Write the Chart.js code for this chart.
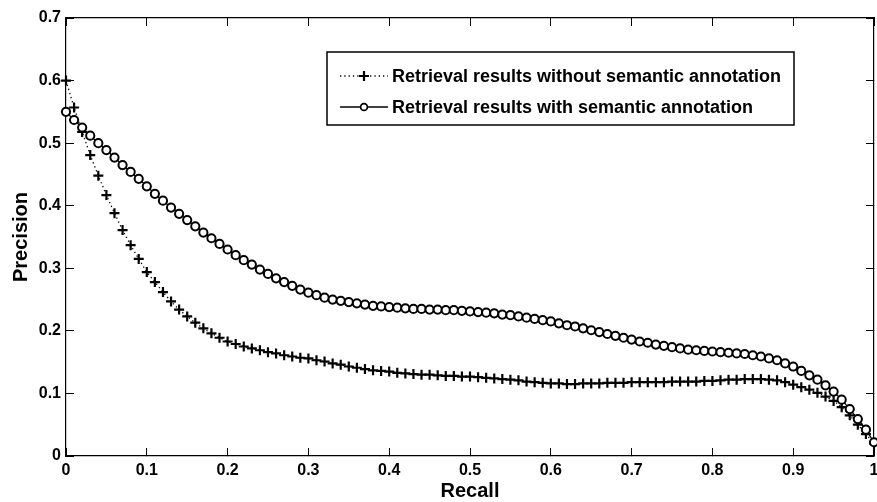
<!DOCTYPE html>
<html>
<head>
<meta charset="utf-8">
<script src="https://cdn.jsdelivr.net/npm/chart.js@4/dist/chart.umd.min.js"></script>
<style>
  body { margin: 0; background: #fff; }
</style>
</head>
<body>
<canvas id="pr-chart" width="877" height="502"></canvas>
<script>
// recall (x) values
const recall = [
  0.00, 0.01, 0.02, 0.03, 0.04, 0.05, 0.06, 0.07, 0.08, 0.09,
  0.10, 0.11, 0.12, 0.13, 0.14, 0.15, 0.16, 0.17, 0.18, 0.19,
  0.20, 0.21, 0.22, 0.23, 0.24, 0.25, 0.26, 0.27, 0.28, 0.29,
  0.30, 0.31, 0.32, 0.33, 0.34, 0.35, 0.36, 0.37, 0.38, 0.39,
  0.40, 0.41, 0.42, 0.43, 0.44, 0.45, 0.46, 0.47, 0.48, 0.49,
  0.50, 0.51, 0.52, 0.53, 0.54, 0.55, 0.56, 0.57, 0.58, 0.59,
  0.60, 0.61, 0.62, 0.63, 0.64, 0.65, 0.66, 0.67, 0.68, 0.69,
  0.70, 0.71, 0.72, 0.73, 0.74, 0.75, 0.76, 0.77, 0.78, 0.79,
  0.80, 0.81, 0.82, 0.83, 0.84, 0.85, 0.86, 0.87, 0.88, 0.89,
  0.90, 0.91, 0.92, 0.93, 0.94, 0.95, 0.96, 0.97, 0.98, 0.99,
  1.00
];

// precision without semantic annotation (+ markers, dotted)
const precisionWithout = [
  0.600, 0.557, 0.518, 0.481, 0.448, 0.417, 0.388, 0.361, 0.337, 0.315,
  0.294, 0.278, 0.262, 0.247, 0.234, 0.223, 0.213, 0.204, 0.196, 0.189,
  0.183, 0.179, 0.175, 0.172, 0.169, 0.166, 0.164, 0.161, 0.159, 0.157,
  0.156, 0.153, 0.151, 0.148, 0.146, 0.143, 0.141, 0.139, 0.137, 0.136,
  0.135, 0.133, 0.132, 0.131, 0.130, 0.130, 0.129, 0.128, 0.128, 0.127,
  0.127, 0.126, 0.125, 0.124, 0.123, 0.122, 0.121, 0.119, 0.118, 0.117,
  0.116, 0.116, 0.115, 0.115, 0.116, 0.116, 0.116, 0.117, 0.117, 0.117,
  0.118, 0.118, 0.118, 0.118, 0.118, 0.119, 0.119, 0.119, 0.119, 0.120,
  0.120, 0.121, 0.122, 0.122, 0.123, 0.123, 0.123, 0.122, 0.121, 0.118,
  0.114, 0.110, 0.106, 0.101, 0.095, 0.088, 0.078, 0.065, 0.050, 0.035,
  0.020
];

// precision with semantic annotation (o markers, solid)
const precisionWith = [
  0.550, 0.537, 0.525, 0.512, 0.500, 0.489, 0.477, 0.465, 0.454, 0.443,
  0.431, 0.419, 0.408, 0.397, 0.387, 0.377, 0.367, 0.357, 0.348, 0.339,
  0.330, 0.321, 0.313, 0.306, 0.298, 0.291, 0.284, 0.278, 0.272, 0.266,
  0.261, 0.257, 0.253, 0.250, 0.248, 0.246, 0.244, 0.242, 0.240, 0.239,
  0.238, 0.237, 0.236, 0.235, 0.235, 0.234, 0.234, 0.233, 0.233, 0.232,
  0.231, 0.230, 0.229, 0.228, 0.226, 0.225, 0.223, 0.221, 0.219, 0.217,
  0.215, 0.212, 0.209, 0.207, 0.204, 0.201, 0.198, 0.195, 0.192, 0.189,
  0.186, 0.183, 0.181, 0.178, 0.176, 0.174, 0.172, 0.170, 0.169, 0.168,
  0.167, 0.166, 0.165, 0.164, 0.163, 0.161, 0.159, 0.156, 0.153, 0.148,
  0.143, 0.136, 0.129, 0.122, 0.113, 0.103, 0.090, 0.075, 0.059, 0.042,
  0.022
];

const seriesLabels = [
  'Retrieval results without semantic annotation',
  'Retrieval results with semantic annotation'
];

const FONT = "'Liberation Sans', Arial, Helvetica, sans-serif";

function toPoints(ys) {
  return recall.map((x, i) => ({ x: x, y: ys[i] }));
}

// boxed legend in the upper right, drawn like the matlab one
const boxLegend = {
  id: 'boxLegend',
  afterDraw(chart) {
    const ctx = chart.ctx;
    const left = 327, top = 52, right = 794, bottom = 125;
    const rows = [76, 107];
    ctx.save();
    ctx.fillStyle = '#fff';
    ctx.fillRect(left, top, right - left, bottom - top);
    ctx.strokeStyle = '#000';
    ctx.lineWidth = 1.5;
    ctx.strokeRect(left, top, right - left, bottom - top);

    // row 1: dotted + cross
    ctx.lineWidth = 1.3;
    ctx.setLineDash([1.3, 3]);
    ctx.beginPath();
    ctx.moveTo(340, rows[0]);
    ctx.lineTo(388, rows[0]);
    ctx.stroke();
    ctx.setLineDash([]);
    ctx.lineWidth = 2.2;
    ctx.beginPath();
    ctx.moveTo(359, rows[0]); ctx.lineTo(369, rows[0]);
    ctx.moveTo(364, rows[0] - 5); ctx.lineTo(364, rows[0] + 5);
    ctx.stroke();

    // row 2: solid + circle
    ctx.lineWidth = 1.6;
    ctx.beginPath();
    ctx.moveTo(340, rows[1]);
    ctx.lineTo(388, rows[1]);
    ctx.stroke();
    ctx.beginPath();
    ctx.arc(364, rows[1], 3.4, 0, Math.PI * 2);
    ctx.fillStyle = '#fff';
    ctx.fill();
    ctx.lineWidth = 1.7;
    ctx.stroke();

    ctx.fillStyle = '#000';
    ctx.font = 'bold 18px ' + FONT;
    ctx.textBaseline = 'middle';
    ctx.textAlign = 'left';
    ctx.fillText(seriesLabels[0], 392, rows[0] + 1);
    ctx.fillText(seriesLabels[1], 392, rows[1] + 1);
    ctx.restore();
  }
};

const tickFont = { family: FONT, weight: 'bold', size: 16 };
const titleFont = { family: FONT, weight: 'bold', size: 20, lineHeight: 1.1 };
const tickText = v => Number(v.toFixed(1)).toString();

// keep the plot box where matlab put it: no extra padding from edge labels
function fixX(h) {
  return s => { s.height = h; s.paddingLeft = 0; s.paddingRight = 0; };
}
function fixY(w) {
  return s => { s.width = w; s.paddingTop = 0; s.paddingBottom = 0; };
}

let ctx = document.getElementById('pr-chart').getContext('2d');

new Chart(ctx, {
  type: 'scatter',
  data: {
    datasets: [
      {
        label: seriesLabels[0],
        data: toPoints(precisionWithout),
        showLine: true,
        borderColor: '#000',
        borderWidth: 1.3,
        borderDash: [1.3, 3],
        pointStyle: 'cross',
        pointRadius: 5,
        pointBorderWidth: 2.2,
        pointBorderColor: '#000',
        pointBackgroundColor: '#000',
        clip: false,
        order: 1
      },
      {
        label: seriesLabels[1],
        data: toPoints(precisionWith),
        showLine: true,
        borderColor: '#000',
        borderWidth: 1.3,
        pointStyle: 'circle',
        pointRadius: 4.1,
        pointBorderWidth: 2,
        pointBorderColor: '#000',
        pointBackgroundColor: '#fff',
        clip: false,
        order: 0
      }
    ]
  },
  options: {
    responsive: false,
    animation: false,
    layout: {
      autoPadding: false,
      padding: { left: 0, right: 3, top: 18, bottom: 0 }
    },
    plugins: {
      legend: { display: false },
      tooltip: { enabled: false }
    },
    scales: {
      x: {
        type: 'linear',
        position: 'bottom',
        min: 0,
        max: 1,
        afterFit: fixX(46),
        border: { display: true, color: '#000', width: 1.2 },
        grid: { drawOnChartArea: false, drawTicks: true, tickLength: -8, color: '#000', lineWidth: 1 },
        ticks: { stepSize: 0.1, color: '#000', font: tickFont, padding: 13, maxRotation: 0, callback: tickText },
        title: { display: true, text: 'Recall', color: '#000', font: titleFont, padding: { top: 0, bottom: 0 } }
      },
      y: {
        type: 'linear',
        position: 'left',
        min: 0,
        max: 0.7,
        afterFit: fixY(66),
        border: { display: true, color: '#000', width: 1.2 },
        grid: { drawOnChartArea: false, drawTicks: true, tickLength: -8, color: '#000', lineWidth: 1 },
        ticks: { stepSize: 0.1, color: '#000', font: tickFont, padding: 13, callback: tickText },
        title: { display: true, text: 'Precision', color: '#000', font: titleFont, padding: { top: 10, bottom: 0 } }
      },
      x2: {
        type: 'linear',
        position: 'top',
        min: 0,
        max: 1,
        afterFit: fixX(0),
        border: { display: true, color: '#000', width: 1.2 },
        grid: { drawOnChartArea: false, drawTicks: true, tickLength: -8, color: '#000', lineWidth: 1 },
        ticks: { stepSize: 0.1, display: false }
      },
      y2: {
        type: 'linear',
        position: 'right',
        min: 0,
        max: 0.7,
        afterFit: fixY(0),
        border: { display: true, color: '#000', width: 1.2 },
        grid: { drawOnChartArea: false, drawTicks: true, tickLength: -8, color: '#000', lineWidth: 1 },
        ticks: { stepSize: 0.1, display: false }
      }
    }
  },
  plugins: [boxLegend]
});
</script>
</body>
</html>
